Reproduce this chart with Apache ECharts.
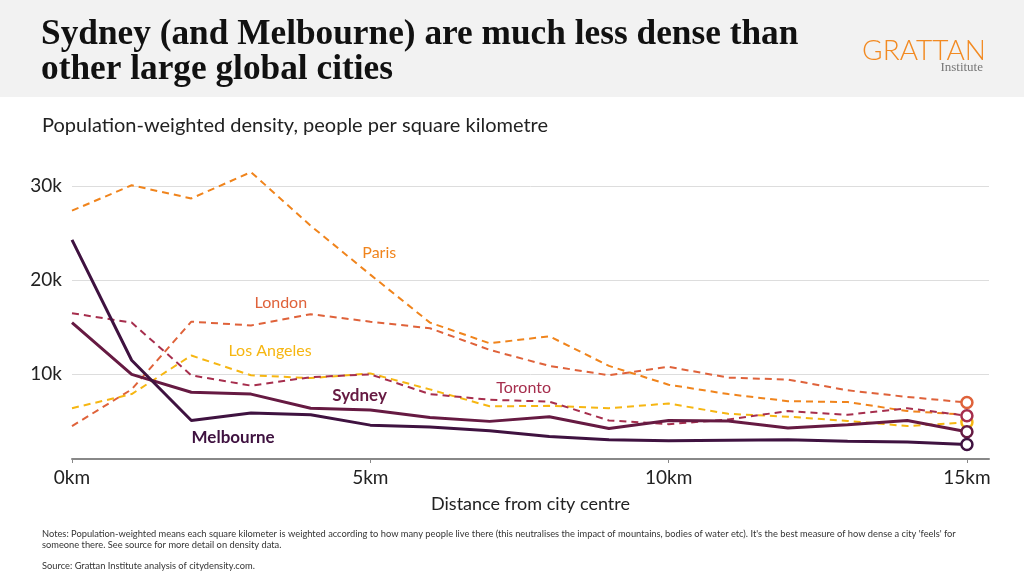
<!DOCTYPE html>
<html>
<head>
<meta charset="utf-8">
<title>Population-weighted density</title>
<script src="https://cdn.jsdelivr.net/npm/echarts@6/dist/echarts.min.js"></script>
<style>
  html, body { margin: 0; padding: 0; background: #fff; }
  #chart { width: 1024px; height: 576px; }
</style>
</head>
<body>
<div id="chart"></div>
<script>
// distance from the city centre (km)
const distanceKm = [0, 1, 2, 3, 4, 5, 6, 7, 8, 9, 10, 11, 12, 13, 14, 15];

// population-weighted density, people per km2
const paris     = [27400, 30100, 28700, 31500, 25800, 20600, 15500, 13300, 14050, 10900, 8900, 7900, 7150, 7050, 6100, 5700];
const london    = [4500, 8400, 15600, 15200, 16400, 15600, 14900, 12600, 10900, 9900, 10800, 9650, 9450, 8300, 7600, 7000];
const losAngeles = [6400, 7900, 12000, 9900, 9600, 10100, 8400, 6600, 6650, 6400, 6900, 5800, 5500, 5050, 4500, 4900];
const toronto   = [16500, 15500, 9900, 8800, 9700, 10000, 7900, 7300, 7100, 5100, 4700, 5200, 6100, 5700, 6400, 5600];
const sydney    = [15500, 10000, 8100, 7900, 6400, 6200, 5400, 5000, 5500, 4250, 5100, 5050, 4300, 4650, 5100, 3900];
const melbourne = [24300, 11500, 5100, 5900, 5700, 4600, 4400, 4000, 3400, 3050, 2950, 3000, 3050, 2900, 2800, 2550];

// axis ticks
const xTicks = [0, 5, 10, 15];
const yTicks = [10000, 20000, 30000];

const chart = echarts.init(document.getElementById('chart'));
const textFont = 'Lato';

// one line per city, label floats next to the line, end point gets a ring
function citySeries(name, values, color, solid, labelAt, endRing) {
    const last = values.length - 1;
    return {
        name: name,
        type: 'line',
        data: values.map((v, i) => [distanceKm[i], v]),
        showSymbol: true,
        symbol: (val, p) => (endRing && p.dataIndex === last) ? 'circle' : 'none',
        symbolSize: 11,
        itemStyle: { color: '#fff', borderColor: color, borderWidth: 2.5 },
        lineStyle: {
            color: color,
            width: solid ? 3 : 2,
            type: solid ? 'solid' : [7, 5]
        },
        z: solid ? 4 : 3,
        markPoint: {
            silent: true,
            symbol: 'circle',
            symbolSize: 1,
            itemStyle: { color: 'rgba(0,0,0,0)' },
            label: {
                show: true,
                position: 'inside',
                formatter: name,
                color: color,
                fontFamily: textFont,
                fontSize: solid ? 17 : 16,
                fontWeight: solid ? 'bold' : 'normal'
            },
            data: [{ coord: labelAt }]
        }
    };
}

chart.setOption({
    animation: false,
    backgroundColor: '#fff',
    graphic: [
        // grey header band
        { type: 'rect', left: 0, top: 0, shape: { width: 1024, height: 97 }, style: { fill: '#f2f2f2' }, z: -10 }
    ],
    title: [
        {
            text: 'Sydney (and Melbourne) are much less dense than\nother large global cities',
            left: 36, top: 13,
            textStyle: { fontFamily: 'Liberation Serif', fontWeight: 'bold', fontSize: 35.3, lineHeight: 34.5, color: '#111' }
        },
        {
            text: 'Population-weighted density, people per square kilometre',
            left: 37, top: 111,
            textStyle: { fontFamily: textFont, fontWeight: 'normal', fontSize: 20, color: '#222' }
        },
        {
            text: 'GRATTAN',
            right: 33, top: 32,
            textStyle: { fontFamily: textFont, fontWeight: 300, fontSize: 28, color: '#f28a22' }
        },
        {
            text: 'Institute',
            right: 36, top: 56,
            textStyle: { fontFamily: 'Liberation Serif', fontWeight: 'normal', fontSize: 13, color: '#777' }
        },
        {
            text: 'Notes: Population-weighted means each square kilometer is weighted according to how many people live there (this neutralises the impact of mountains, bodies of water etc). It\'s the best measure of how dense a city \'feels\' for\nsomeone there. See source for more detail on density data.',
            left: 37, top: 523,
            textStyle: { fontFamily: textFont, fontWeight: 'normal', fontSize: 9.3, lineHeight: 11, color: '#333' }
        },
        {
            text: 'Source: Grattan Institute analysis of citydensity.com.',
            left: 37, top: 556,
            textStyle: { fontFamily: textFont, fontWeight: 'normal', fontSize: 9.3, color: '#333' }
        }
    ],
    grid: { left: 72, right: 35, top: 158, bottom: 117 },
    xAxis: {
        type: 'value',
        min: 0,
        max: 15.37,
        interval: 5,
        name: 'Distance from city centre',
        nameLocation: 'middle',
        nameGap: 36,
        nameTextStyle: { fontFamily: textFont, fontSize: 18, color: '#222' },
        axisLine: { show: true, lineStyle: { color: '#888', width: 2 } },
        axisTick: { show: true, customValues: xTicks, length: 4, lineStyle: { color: '#888' } },
        axisLabel: {
            customValues: xTicks,
            margin: 9,
            fontFamily: textFont,
            fontSize: 19,
            color: '#222',
            formatter: v => v + 'km'
        },
        splitLine: { show: false }
    },
    yAxis: {
        type: 'value',
        min: 1000,
        max: 33000,
        interval: 1000,
        axisLine: { show: false },
        axisTick: { show: false },
        axisLabel: {
            margin: 10,
            fontFamily: textFont,
            fontSize: 19,
            color: '#222',
            formatter: v => yTicks.indexOf(v) >= 0 ? (v / 1000) + 'k' : ''
        },
        splitLine: {
            show: true,
            // only every 10th line (10k, 20k, 30k) is visible
            lineStyle: {
                width: 1,
                color: ['rgba(0,0,0,0)', 'rgba(0,0,0,0)', 'rgba(0,0,0,0)', 'rgba(0,0,0,0)', 'rgba(0,0,0,0)',
                        'rgba(0,0,0,0)', 'rgba(0,0,0,0)', 'rgba(0,0,0,0)', 'rgba(0,0,0,0)', '#dddddd']
            }
        }
    },
    series: [
        citySeries('Paris', paris, '#f0841c', false, [5.15, 22900], false),
        citySeries('London', london, '#df623a', false, [3.5, 17600], true),
        citySeries('Los Angeles', losAngeles, '#f6b612', false, [3.32, 12500], true),
        citySeries('Toronto', toronto, '#a62e4d', false, [7.57, 8600], true),
        citySeries('Sydney', sydney, '#661a42', true, [4.82, 7800], true),
        citySeries('Melbourne', melbourne, '#3f1240', true, [2.7, 3300], true)
    ]
});
</script>
</body>
</html>
